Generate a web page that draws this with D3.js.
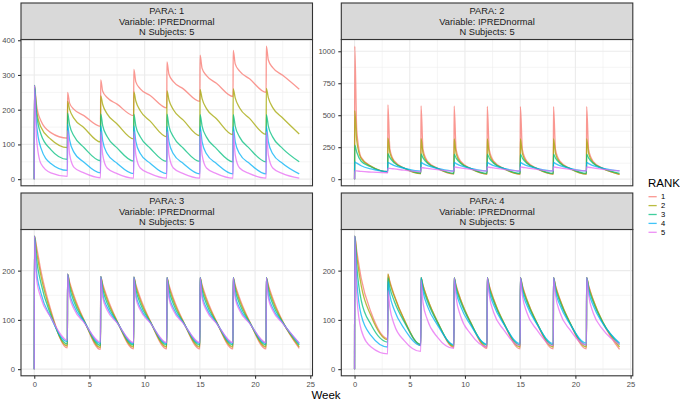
<!DOCTYPE html>
<html>
<head>
<meta charset="utf-8">
<script src="https://cdn.jsdelivr.net/npm/d3@7"></script>
<style>
body { margin: 0; background: #fff; }
text { font-family: "Liberation Sans", Arial, sans-serif; }
</style>
</head>
<body>
<svg id="chart" width="680" height="402"></svg>
<script>
'use strict';

// sample times (weeks): start, then for each dose: peak, +0.2, +0.6, +1.5, trough
var weeks = [0,
  0.02, 0.2, 0.6, 1.5, 3,
  3.02, 3.2, 3.6, 4.5, 6,
  6.02, 6.2, 6.6, 7.5, 9,
  9.02, 9.2, 9.6, 10.5, 12,
  12.02, 12.2, 12.6, 13.5, 15,
  15.02, 15.2, 15.6, 16.5, 18,
  18.02, 18.2, 18.6, 19.5, 21,
  21.02, 21.2, 21.6, 22.5, 24];

var ranks = ['1', '2', '3', '4', '5'];

// PARA 1, one array per rank
var para1 = [
  [0, 270,215,168,134,118, 250,219,201,183,152, 286,253,235,216,183, 316,280,260,241,205, 338,302,281,260,224, 357,319,298,276,238, 371,332,311,289,250, 383,343,321,299,259],
  [0, 270,200,150,115,91, 224,201,175,148,107, 240,215,188,159,116, 251,225,197,167,122, 254,228,200,170,125, 258,232,203,174,128, 260,234,205,175,129, 261,235,206,176,130],
  [0, 270,190,130,85,57, 190,156,124,91,53, 188,154,123,90,52, 187,153,122,89,51, 187,153,122,89,51, 186,153,121,88,50, 186,153,121,88,50, 186,153,121,88,50],
  [0, 270,160,90,45,25, 158,113,77,49,18, 154,110,74,46,16, 153,109,74,46,16, 152,108,73,45,15, 152,108,73,45,15, 152,108,73,45,15, 152,108,73,45,15],
  [0, 270,120,45,18,8, 140,72,34,18,4, 137,70,32,16,3, 137,70,32,16,3, 137,70,32,16,3, 137,70,32,16,3, 137,70,32,16,3, 137,70,32,16,3]
];

var para2 = [
  [0, 1040,380,170,100,58, 580,235,142,87,43, 572,232,141,86,41, 570,230,140,85,40, 568,230,140,85,40, 567,230,140,85,40, 567,230,140,85,39, 567,230,140,84,38],
  [0, 535,300,160,100,58, 320,205,133,84,43, 316,202,131,83,41, 315,200,130,82,40, 315,200,130,82,40, 315,200,130,82,40, 315,200,130,82,39, 315,200,130,81,38],
  [0, 265,210,140,95,58, 200,168,127,86,48, 197,166,125,85,46, 195,165,124,84,45, 195,165,124,84,45, 195,165,124,84,45, 195,165,124,84,45, 195,165,124,84,45],
  [0, 135,125,105,80,60, 130,123,106,85,62, 130,122,105,85,63, 130,122,105,85,63, 130,122,105,85,63, 130,122,105,85,64, 130,122,105,85,64, 130,122,105,85,65],
  [0, 65,64,60,55,50, 85,84,80,70,58, 90,89,84,74,62, 95,93,88,77,64, 95,93,88,77,64, 95,93,88,77,64, 95,93,88,77,65, 95,93,88,77,65]
];

var para3 = [
  [0, 270,250,200,120,43, 193,177,149,100,40, 188,173,146,98,41, 187,172,145,98,41, 186,171,144,97,41, 186,171,144,97,41, 186,171,144,97,41, 186,171,144,97,42],
  [0, 270,240,190,115,47, 193,173,144,99,44, 188,169,141,97,45, 187,168,140,97,45, 186,167,139,96,45, 186,167,139,96,45, 186,167,139,96,45, 186,167,139,96,45],
  [0, 270,225,175,110,51, 193,167,137,98,48, 188,163,134,96,49, 187,162,133,96,49, 186,161,132,95,49, 186,161,132,95,49, 186,161,132,95,49, 186,161,132,95,49],
  [0, 270,200,155,105,56, 193,156,128,97,52, 188,153,126,95,52, 187,152,125,95,52, 186,151,124,94,52, 186,151,124,94,52, 186,151,124,94,52, 186,151,124,94,52],
  [0, 270,185,145,105,59, 193,148,122,95,55, 188,146,120,94,54, 187,145,120,94,54, 186,144,119,93,54, 186,144,119,93,54, 186,144,119,93,54, 186,144,119,93,53]
];

var para4 = [
  [0, 270,240,185,115,62, 193,178,150,100,48, 186,170,143,96,44, 185,170,142,95,42, 186,170,142,94,41, 186,170,142,94,41, 186,170,142,94,41, 186,170,142,94,40],
  [0, 270,230,170,108,60, 193,175,148,100,50, 186,170,143,97,46, 185,168,141,96,45, 186,168,141,95,45, 186,168,141,95,45, 186,168,141,95,45, 186,168,141,95,45],
  [0, 270,210,140,90,55, 185,165,138,96,50, 186,165,138,95,48, 185,164,137,94,49, 186,164,137,94,49, 186,164,137,94,49, 186,164,137,94,49, 186,164,137,94,50],
  [0, 270,180,110,68,45, 178,150,120,82,48, 186,158,128,90,50, 185,158,128,90,51, 186,158,130,92,52, 186,158,130,92,52, 186,158,130,92,53, 186,158,130,92,53],
  [0, 270,150,80,45,31, 160,125,90,58,36, 180,135,100,65,42, 185,145,108,72,45, 186,150,115,80,48, 186,150,115,80,48, 186,150,115,80,49, 186,150,115,80,50]
];

var paraIds = [1, 2, 3, 4];
var yTicks1 = [0, 100, 200, 300, 400];
var yTicks2 = [0, 250, 500, 750, 1000];
var yTicks34 = [0, 100, 200];
var xTicks = [0, 5, 10, 15, 20, 25];

var colors = ['#F8766D', '#A3A500', '#00BF7D', '#00B0F6', '#E76BF3'];

var svg = d3.select('#chart');

var panelW = 291.5, stripH = 36.5, plotH = 146.3;
var panels = [
  {x: 21, y: 3, data: para1, ticks: yTicks1, bottom: false},
  {x: 341.3, y: 3, data: para2, ticks: yTicks2, bottom: false},
  {x: 21, y: 193, data: para3, ticks: yTicks34, bottom: true},
  {x: 341.3, y: 193, data: para4, ticks: yTicks34, bottom: true}
];

// ggplot style 5% expansion
function expand(ext) {
  var pad = (ext[1] - ext[0]) * 0.05;
  return [ext[0] - pad, ext[1] + pad];
}

var x = d3.scaleLinear().domain(expand([0, 24])).range([0, panelW]);

panels.forEach(function(p, i) {
  var g = svg.append('g').attr('transform', 'translate(' + p.x + ',' + (p.y + stripH) + ')');
  var allVals = d3.merge(p.data);
  var y = d3.scaleLinear().domain(expand(d3.extent(allVals))).range([plotH, 0]);

  // minor grid
  var yMinor = d3.pairs(p.ticks).map(function(t) { return (t[0] + t[1]) / 2; });
  var xMinor = d3.pairs(xTicks).map(function(t) { return (t[0] + t[1]) / 2; });
  g.selectAll('.ymin').data(yMinor).enter().append('line')
    .attr('x1', 0).attr('x2', panelW)
    .attr('y1', function(d) { return y(d); }).attr('y2', function(d) { return y(d); })
    .attr('stroke', '#EBEBEB').attr('stroke-width', 0.55);
  g.selectAll('.xmin').data(xMinor).enter().append('line')
    .attr('y1', 0).attr('y2', plotH)
    .attr('x1', function(d) { return x(d); }).attr('x2', function(d) { return x(d); })
    .attr('stroke', '#EBEBEB').attr('stroke-width', 0.55);
  // major grid
  g.selectAll('.ymaj').data(p.ticks).enter().append('line')
    .attr('x1', 0).attr('x2', panelW)
    .attr('y1', function(d) { return y(d); }).attr('y2', function(d) { return y(d); })
    .attr('stroke', '#EBEBEB').attr('stroke-width', 1.1);
  g.selectAll('.xmaj').data(xTicks).enter().append('line')
    .attr('y1', 0).attr('y2', plotH)
    .attr('x1', function(d) { return x(d); }).attr('x2', function(d) { return x(d); })
    .attr('stroke', '#EBEBEB').attr('stroke-width', 1.1);

  // lines, one per rank
  var line = d3.line()
    .x(function(d, j) { return x(weeks[j]); })
    .y(function(d) { return y(d); })
    .curve(d3.curveMonotoneX);
  g.selectAll('.rank').data(p.data).enter().append('path')
    .attr('d', line)
    .attr('fill', 'none')
    .attr('stroke', function(d, k) { return colors[k]; })
    .attr('stroke-opacity', 0.75)
    .attr('stroke-width', 1.3);

  // panel border
  g.append('rect').attr('width', panelW).attr('height', plotH)
    .attr('fill', 'none').attr('stroke', '#333333').attr('stroke-width', 1.1);

  // y axis
  var yAxis = d3.axisLeft(y).tickValues(p.ticks).tickFormat(d3.format('d'))
    .tickSize(3).tickPadding(3);
  var ya = g.append('g').call(yAxis);
  ya.select('.domain').remove();
  ya.selectAll('line').attr('stroke', '#333333').attr('stroke-width', 1.1);
  ya.selectAll('text').attr('fill', '#4D4D4D').style('font-size', '7.6px')
    .style('font-family', '"Liberation Sans", Arial, sans-serif');

  if (p.bottom) {
    var xAxis = d3.axisBottom(x).tickValues(xTicks).tickSize(3).tickPadding(2.5);
    var xa = g.append('g').attr('transform', 'translate(0,' + plotH + ')').call(xAxis);
    xa.select('.domain').remove();
    xa.selectAll('line').attr('stroke', '#333333').attr('stroke-width', 1.1);
    xa.selectAll('text').attr('fill', '#4D4D4D').style('font-size', '7.6px')
      .style('font-family', '"Liberation Sans", Arial, sans-serif');
  }

  // strip
  var s = svg.append('g').attr('transform', 'translate(' + p.x + ',' + p.y + ')');
  s.append('rect').attr('width', panelW).attr('height', stripH)
    .attr('fill', '#D9D9D9').attr('stroke', '#333333').attr('stroke-width', 1.1);
  var lines = ['PARA: ' + paraIds[i], 'Variable: IPREDnormal', 'N Subjects: ' + p.data.length];
  s.selectAll('text').data(lines).enter().append('text')
    .attr('x', panelW / 2)
    .attr('y', function(d, j) { return 11.2 + j * 10.4; })
    .attr('text-anchor', 'middle')
    .attr('fill', '#1A1A1A')
    .style('font-size', '9.3px')
    .text(function(d) { return d; });
});

// x axis title
svg.append('text').attr('x', 326).attr('y', 398.5).attr('text-anchor', 'middle')
  .style('font-size', '11.5px').attr('fill', '#000').text('Week');

// legend
var leg = svg.append('g').attr('transform', 'translate(648,0)');
leg.append('text').attr('x', 0).attr('y', 187).style('font-size', '11.5px').text('RANK');
var items = leg.selectAll('.item').data(ranks).enter().append('g')
  .attr('transform', function(d, k) { return 'translate(0,' + (196.7 + k * 8.9) + ')'; });
items.append('line').attr('x1', 0.5).attr('x2', 8.7)
  .attr('stroke', function(d, k) { return colors[k]; })
  .attr('stroke-opacity', 0.75).attr('stroke-width', 1.3);
items.append('text').attr('x', 13).attr('dy', '0.35em')
  .style('font-size', '7.6px').attr('fill', '#000').text(function(d) { return d; });
</script>
</body>
</html>
